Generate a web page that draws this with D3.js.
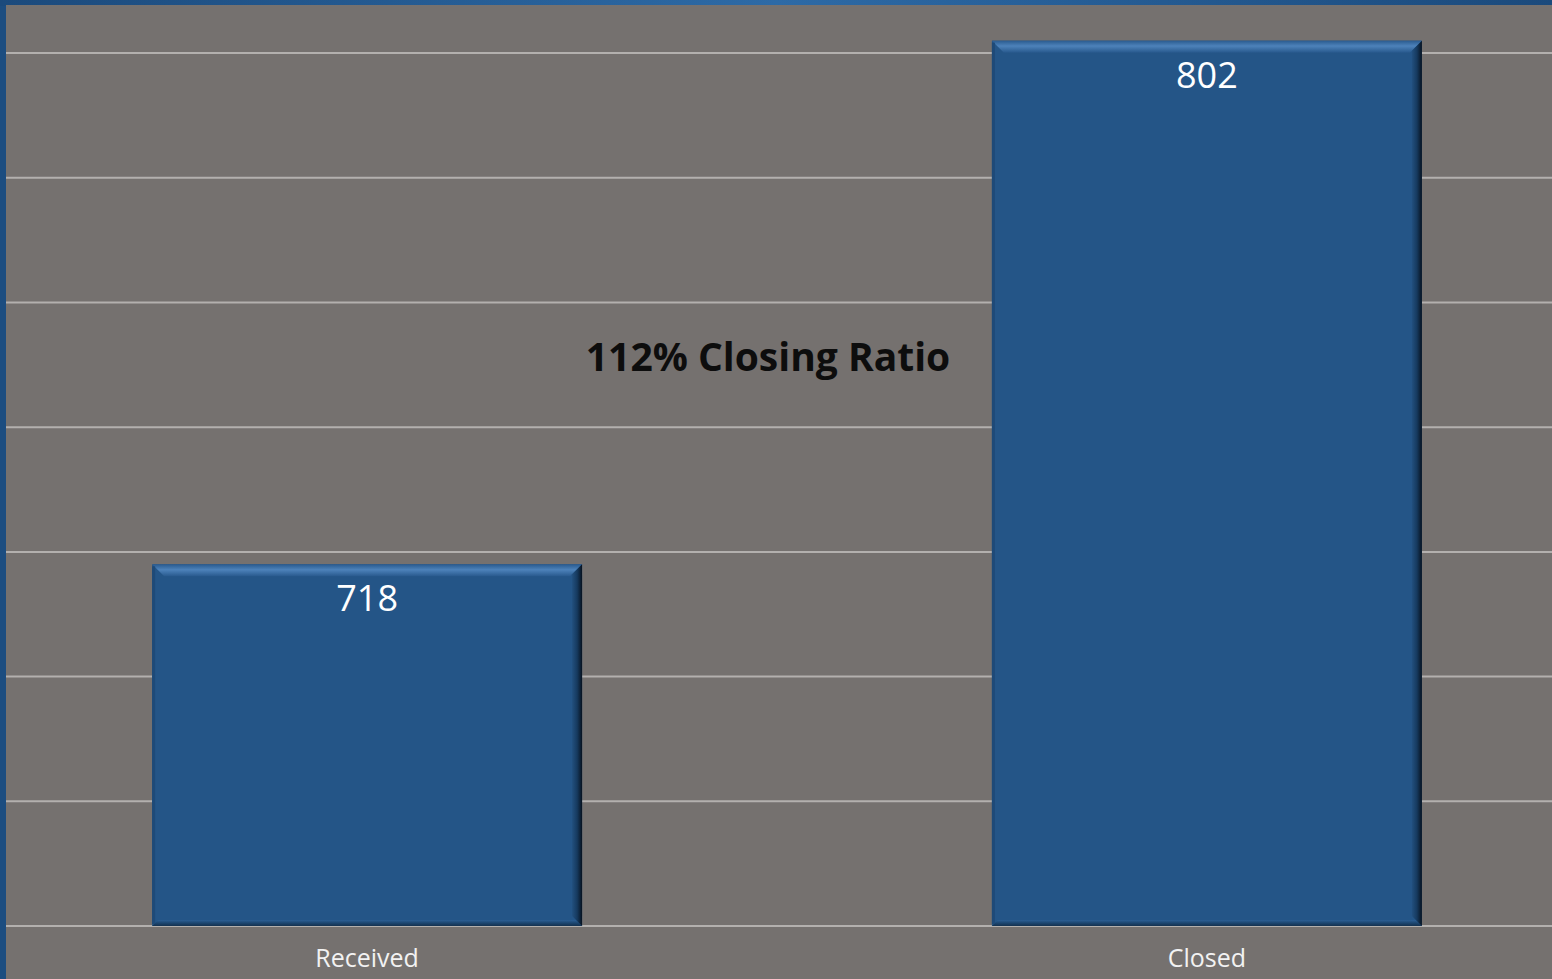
<!doctype html>
<html>
  <head>
    <script src="https://d3js.org/d3.v7.min.js"></script>
    <style>
      body { margin: 0; background: #1c4d80; overflow: hidden; }
      svg { display: block; }
    </style>
  </head>
  <body>
    <svg id="chart" width="1552" height="979"></svg>
    <script>
      /* chart data */
      var categories = ["Received", "Closed"];
      var values = [718, 802];
      var gridTicks = [660, 680, 700, 720, 740, 760, 780, 800, 820];
      var note = "112% Closing Ratio";

      var svg = d3.select("#chart");
      var defs = svg.append("defs");

      /* gradients for frame and bevels */
      function grad(id, x2, y2, stops) {
        var g = defs.append("linearGradient").attr("id", id)
          .attr("x1", 0).attr("y1", 0).attr("x2", x2).attr("y2", y2);
        stops.forEach(s => g.append("stop").attr("offset", s[0]).attr("stop-color", s[1]));
      }
      grad("topband", 1, 0, [[0, "#1b4a7c"], [0.5, "#2d6aa6"], [1, "#1b4a7c"]]);
      grad("bevTop", 0, 1, [[0, "#2a5b8f"], [0.45, "#4d82ba"], [1, "#28598d"]]);
      grad("bevRight", 1, 0, [[0, "#22507f"], [0.5, "#163a5f"], [1, "#07121f"]]);
      grad("bevBottom", 0, 1, [[0, "#2b5f95"], [0.5, "#1c4670"], [1, "#14314f"]]);

      svg.append("rect").attr("x", 0).attr("y", 0).attr("width", 1552).attr("height", 6)
        .attr("fill", "url(#topband)");

      /* plot area */
      svg.append("rect")
        .attr("x", 6).attr("y", 5).attr("width", 1546).attr("height", 974)
        .attr("fill", "#75716f");

      var x = d3.scaleBand()
        .domain(categories)
        .range([6, 1568])
        .paddingInner(0.488)
        .paddingOuter(0.174);

      var y = d3.scaleLinear()
        .domain([660, 820])
        .range([926, -71.6]);

      /* gridlines */
      svg.append("g").selectAll("line").data(gridTicks)
        .enter().append("line")
          .attr("x1", 6).attr("x2", 1552)
          .attr("y1", d => y(d)).attr("y2", d => y(d))
          .attr("stroke", "#b3b0ae")
          .attr("stroke-width", 2);

      /* bars with soft bevel */
      var bars = svg.append("g").selectAll("g").data(values)
        .enter().append("g");

      bars.append("rect")
        .attr("x", (d, i) => x(categories[i]))
        .attr("y", d => y(d))
        .attr("width", x.bandwidth())
        .attr("height", d => y(660) - y(d))
        .attr("fill", "#245587");

      // top bevel
      bars.append("polygon")
        .attr("points", function(d, i) {
          var x0 = x(categories[i]), x1 = x0 + x.bandwidth(), t = y(d), b = 12;
          return [[x0, t], [x1, t], [x1 - b, t + b], [x0 + b, t + b]].join(" ");
        })
        .attr("fill", "url(#bevTop)");
      // bottom bevel
      bars.append("polygon")
        .attr("points", function(d, i) {
          var x0 = x(categories[i]), x1 = x0 + x.bandwidth(), bt = y(660), b = 6;
          return [[x0 + b, bt - b], [x1 - b, bt - b], [x1, bt], [x0, bt]].join(" ");
        })
        .attr("fill", "url(#bevBottom)");
      // right bevel
      bars.append("polygon")
        .attr("points", function(d, i) {
          var x1 = x(categories[i]) + x.bandwidth(), t = y(d), bt = y(660), b = 10;
          return [[x1, t], [x1, bt], [x1 - b, bt - b], [x1 - b, t + b]].join(" ");
        })
        .attr("fill", "url(#bevRight)");
      // left edge
      bars.append("rect")
        .attr("x", (d, i) => x(categories[i]))
        .attr("y", d => y(d) + 2)
        .attr("width", 3)
        .attr("height", d => y(660) - y(d) - 4)
        .attr("fill", "#1e4a78");

      /* value labels */
      bars.append("text")
        .attr("x", (d, i) => x(categories[i]) + x.bandwidth() / 2)
        .attr("y", d => y(d) + 47)
        .attr("text-anchor", "middle")
        .attr("font-family", "Open Sans, sans-serif")
        .attr("font-size", 36)
        .attr("fill", "#ffffff")
        .text(d => d);

      /* category labels */
      svg.append("g").selectAll("text").data(categories)
        .enter().append("text")
          .attr("x", d => x(d) + x.bandwidth() / 2)
          .attr("y", 967)
          .attr("text-anchor", "middle")
          .attr("font-family", "Open Sans, sans-serif")
          .attr("font-size", 25)
          .attr("fill", "#f2f2f2")
          .text(d => d);

      /* closing ratio note */
      svg.append("text")
        .attr("x", 768)
        .attr("y", 371)
        .attr("text-anchor", "middle")
        .attr("font-family", "Open Sans, sans-serif")
        .attr("font-weight", "bold")
        .attr("font-size", 39)
        .attr("fill", "#0d0d0d")
        .text(note);
    </script>
  </body>
</html>
